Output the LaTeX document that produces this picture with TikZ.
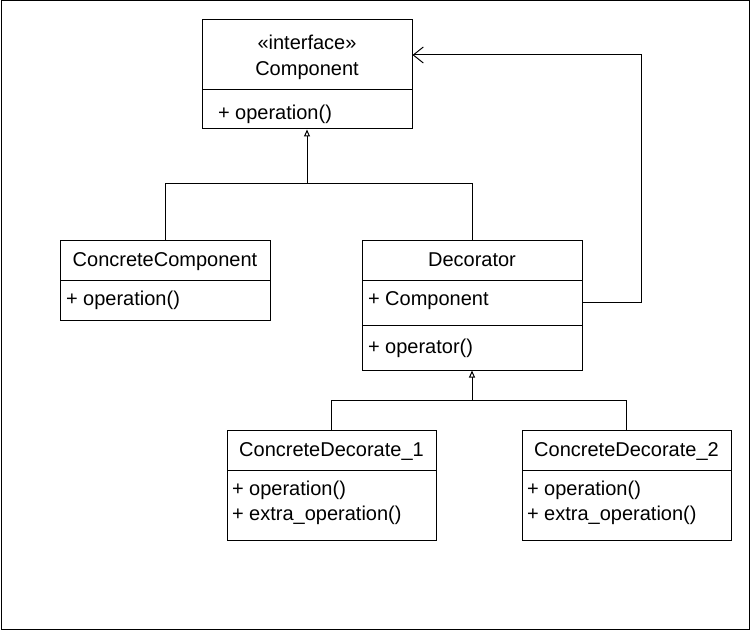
\documentclass[tikz,border=0pt]{standalone}
\usepackage{fontspec}
\setmainfont{Liberation Sans}
\usetikzlibrary{arrows.meta}
\begin{document}
\begin{tikzpicture}[x=1pt,y=-1pt,line width=1pt,
  every node/.style={font=\fontsize{20}{25}\selectfont},
  cbox/.style={draw,rectangle,inner sep=0pt,minimum width=#1},
  ttl/.style={text height=14.6pt,text depth=4.2pt,yshift=-1pt},
  memtext/.style={anchor=west,inner sep=0pt,align=left},
  inherit/.style={-{Triangle[open,length=7pt,width=6pt]}},
  assoc/.style={-{Straight Barb[length=10pt,width=16pt]}}]
\useasboundingbox (0,0) rectangle (751,631);
\node[draw,minimum width=748,minimum height=628,inner sep=0pt] (frame) at (375,315) {};
% Component
\node[cbox=210,minimum height=70] (compT) at (307,55) {};
\node[align=center,inner sep=0pt,font=\fontsize{20}{25.5}\selectfont] (compTt) at ([yshift=-2.5]compT.center) {«interface»\\Component};
\node[cbox=210,minimum height=39] (compM) at (307,109.5) {};
\node[memtext] (compMt) at ([xshift=16,yshift=-5]compM.west) {+ operation()};
% ConcreteComponent
\node[cbox=210,minimum height=40] (ccT) at (165,260) {};
\node[ttl,inner sep=0pt] (ccTt) at (ccT.center) {ConcreteComponent};
\node[cbox=210,minimum height=40] (ccM) at (165,300) {};
\node[memtext] (ccMt) at ([xshift=6]ccM.west) {+ operation()};
% Decorator
\node[cbox=220,minimum height=40] (decT) at (472,260) {};
\node[ttl,inner sep=0pt] (decTt) at (decT.center) {Decorator};
\node[cbox=220,minimum height=45] (decA) at (472,302.5) {};
\node[memtext] (decAt) at ([xshift=6,yshift=1.7]decA.west) {+ Component};
\node[cbox=220,minimum height=45] (decO) at (472,347.5) {};
\node[memtext] (decOt) at ([xshift=6,yshift=-1]decO.west) {+ operator()};
% ConcreteDecorate_1
\node[cbox=209,minimum height=40] (cd1T) at (331.5,450) {};
\node[ttl,inner sep=0pt] (cd1Tt) at (cd1T.center) {ConcreteDecorate\_1};
\node[cbox=209,minimum height=70] (cd1M) at (331.5,505) {};
\node[memtext] (cd1Mt) at ([xshift=5,yshift=2]cd1M.west) {+ operation()\\+ extra\_operation()};
% ConcreteDecorate_2
\node[cbox=209,minimum height=40] (cd2T) at (626.5,450) {};
\node[ttl,inner sep=0pt] (cd2Tt) at (cd2T.center) {ConcreteDecorate\_2};
\node[cbox=209,minimum height=70] (cd2M) at (626.5,505) {};
\node[memtext] (cd2Mt) at ([xshift=5,yshift=2]cd2M.west) {+ operation()\\+ extra\_operation()};
% connectors
\coordinate (j1) at (307,183);
\coordinate (j2) at (472,400);
\coordinate (r1) at (641,302.5);
\draw (ccT.north) |- (j1);
\draw (decT.north) |- (j1);
\draw[inherit] (j1) -- (compM.south);
\draw (cd1T.north) |- (j2);
\draw (cd2T.north) |- (j2);
\draw[inherit] (j2) -- (decO.south);
\draw[assoc] (decA.east) -- (r1) |- (compT.east);
\end{tikzpicture}
\end{document}
